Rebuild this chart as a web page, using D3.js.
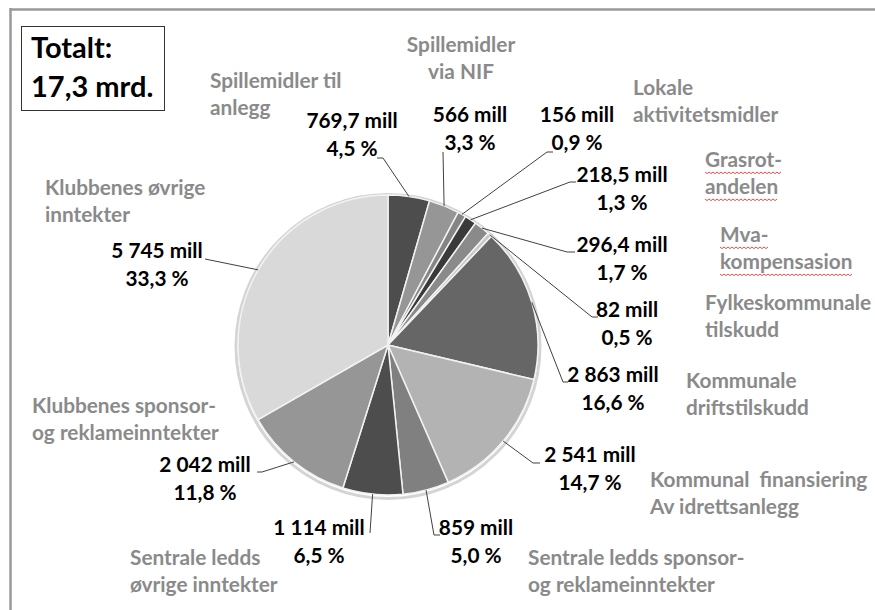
<!DOCTYPE html>
<html>
<head>
<meta charset="utf-8">
<script src="https://cdn.jsdelivr.net/npm/d3@7"></script>
<style>
  body { margin: 0; background: #fff; }
  text { font-family: Lato, "Open Sans", sans-serif; font-weight: bold; white-space: pre; }
</style>
</head>
<body>
<script>
// data, clockwise from 12 o'clock
var categories = [
  ['Spillemidler til', 'anlegg'],
  ['Spillemidler', 'via NIF'],
  ['Lokale', 'aktivitetsmidler'],
  ['Grasrot-', 'andelen'],
  ['Mva-', 'kompensasion'],
  ['Fylkeskommunale', 'tilskudd'],
  ['Kommunale', 'driftstilskudd'],
  ['Kommunal  finansiering', 'Av idrettsanlegg'],
  ['Sentrale ledds sponsor-', 'og reklameinntekter'],
  ['Sentrale ledds', 'øvrige inntekter'],
  ['Klubbenes sponsor-', 'og reklameinntekter'],
  ['Klubbenes øvrige', 'inntekter']
]
var values = [769.7, 566, 156, 218.5, 296.4, 82, 2863, 2541, 859, 1114, 2042, 5745]
var greys = ['#4d4d4d', '#969696', '#858585', '#3a3a3a', '#8a8a8a', '#c8c8c8',
  '#666666', '#b3b3b3', '#808080', '#4d4d4d', '#969696', '#d9d9d9']
var misspelled = ['Grasrot-', 'andelen', 'Mva-', 'kompensasion']

// label placement (hand placed like in the original sheet)
// v: value label centre + baseline, c: category anchor + baseline, e: leader end points
var layout = [
  { v: [352, 128], c: [210, 88, 'start'], e: [[383, 158], [377, 158]] },
  { v: [470, 122], c: [461, 52, 'middle'], e: [[443, 152]] },
  { v: [577, 122], c: [633, 95, 'start'], e: [[547, 152], [553, 152]] },
  { v: [622, 182], c: [705, 167, 'start'], e: [[570, 182], [576, 182]] },
  { v: [622, 252], c: [720, 242, 'start'], e: [[567, 252], [575, 252]] },
  { v: [627, 317], c: [705, 310, 'start'], e: [[592, 317], [598, 317]] },
  { v: [613, 382], c: [686, 388, 'start'], e: [[563, 382], [568, 382]] },
  { v: [590, 462], c: [650, 487, 'start'], e: [[533, 463], [540, 463]] },
  { v: [476, 535], c: [528, 565, 'start'], e: [[434, 535], [440, 535]] },
  { v: [319, 535], c: [130, 565, 'start'], e: [[370, 533]] },
  { v: [205, 472], c: [32, 413, 'start'], e: [[262, 472], [257, 472]] },
  { v: [157, 258], c: [45, 195, 'start'], e: [[205, 259]] }
]

var width = 875
var height = 610
var cx = 388
var cy = 345
var radius = 150
var fs = 20.8

var locale = d3.formatLocale({ decimal: ',', thousands: '\u00a0', grouping: [3], currency: ['', ''] })
var fmtInt = locale.format(',d')
var fmtDec = locale.format(',.1f')
var total = d3.sum(values)

var svg = d3.select('body').append('svg')
  .attr('width', width)
  .attr('height', height)

// frame (only top and left edges are visible)
svg.append('line').attr('x1', 10).attr('x2', width).attr('y1', 9.5).attr('y2', 9.5)
  .attr('stroke', '#999').attr('stroke-width', 2.5)
svg.append('line').attr('x1', 10.5).attr('x2', 10.5).attr('y1', 8).attr('y2', height)
  .attr('stroke', '#999').attr('stroke-width', 2.5)

// total box
svg.append('rect').attr('x', 21.5).attr('y', 26.5).attr('width', 143).attr('height', 84)
  .attr('fill', '#fff').attr('stroke', '#333')
svg.append('text').attr('x', 31).attr('y', 58).attr('font-size', 29).text('Totalt:')
svg.append('text').attr('x', 31).attr('y', 97).attr('font-size', 29)
  .text(fmtDec(total / 1000) + ' mrd.')

var pie = d3.pie().sort(null).value(function (d) { return d })
var arcs = pie(values)
var arc = d3.arc().innerRadius(0).outerRadius(radius)
var edge = d3.arc().innerRadius(radius).outerRadius(radius)

var g = svg.append('g').attr('transform', 'translate(' + cx + ',' + cy + ')')

// soft rim around the pie
g.append('circle').attr('r', radius + 2).attr('cy', 1.5)
  .attr('fill', 'none').attr('stroke', '#d4d4d4').attr('stroke-width', 3)

g.selectAll('path.slice')
  .data(arcs)
  .enter().append('path')
  .attr('class', 'slice')
  .attr('d', arc)
  .attr('fill', function (d, i) { return greys[i] })
  .attr('stroke', '#f2f2f2')
  .attr('stroke-width', 1.5)

// leader lines
var line = d3.line()
svg.selectAll('path.leader')
  .data(arcs)
  .enter().append('path')
  .attr('class', 'leader')
  .attr('d', function (d, i) {
    var p = edge.centroid(d)
    return line([[p[0] + cx, p[1] + cy]].concat(layout[i].e))
  })
  .attr('fill', 'none')
  .attr('stroke', '#404040')
  .attr('stroke-width', 1)

// value + percent labels
arcs.forEach(function (d, i) {
  var L = layout[i]
  var v = values[i]
  var txt = (v % 1 === 0 ? fmtInt(v) : fmtDec(v)) + ' mill'
  svg.append('text').attr('x', L.v[0]).attr('y', L.v[1])
    .attr('text-anchor', 'middle').attr('font-size', fs).attr('fill', '#000')
    .text(txt)
  svg.append('text').attr('x', L.v[0]).attr('y', L.v[1] + 28)
    .attr('text-anchor', 'middle').attr('font-size', fs).attr('fill', '#000')
    .text(fmtDec(v / total * 100) + '\u00a0%')

  categories[i].forEach(function (s, k) {
    var t = svg.append('text').attr('x', L.c[0]).attr('y', L.c[1] + k * 27)
      .attr('text-anchor', L.c[2]).attr('font-size', fs).attr('fill', '#8a8a8a')
      .text(s)
    if (misspelled.indexOf(s) >= 0) {
      var w = t.node().getComputedTextLength()
      var pts = []
      for (var x = 0; x <= w; x += 2) pts.push([L.c[0] + x, L.c[1] + k * 27 + 5 + (x % 4 === 0 ? 0 : 1.6)])
      svg.append('path').attr('d', line(pts)).attr('fill', 'none')
        .attr('stroke', '#e23b3b').attr('stroke-width', 0.9)
    }
  })
})
</script>
</body>
</html>
